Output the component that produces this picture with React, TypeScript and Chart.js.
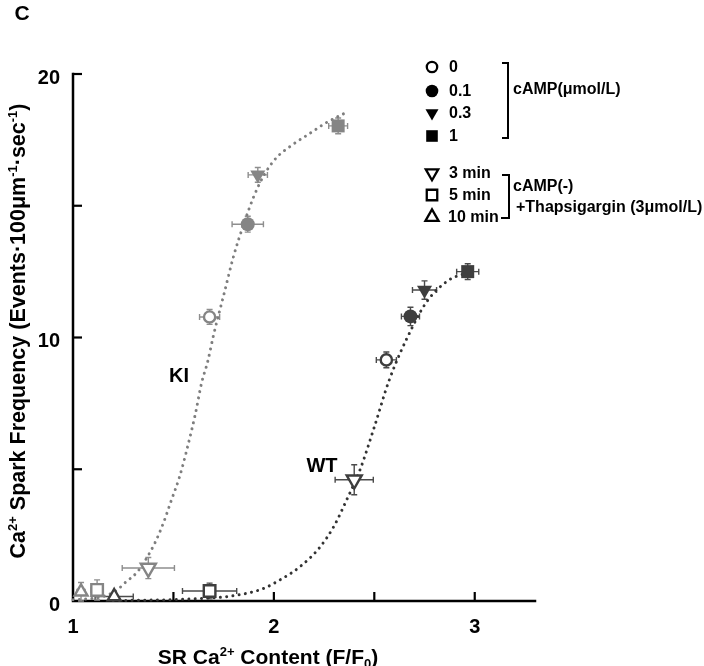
import React, { useEffect, useRef } from 'react';
import { Chart, registerables } from 'chart.js';

Chart.register(...registerables);

// ---------- data ----------
// marker groups (same order in every series array)
const groupLabels = ['10 min', '5 min', '3 min', '0', '0.1', '0.3', '1'];

// KI markers
const kiX = [1.04, 1.12, 1.375, 1.68, 1.87, 1.92, 2.32];
const kiY = [0.35, 0.42, 1.25, 10.78, 14.3, 16.17, 18.03];
const kiXErr = [0.02, 0.03, 0.13, 0.05, 0.078, 0.048, 0.047];
const kiYErr = [0.35, 0.38, 0.4, 0.28, 0.3, 0.28, 0.3];

// WT markers
const wtX = [1.205, 1.68, 2.40, 2.56, 2.68, 2.75, 2.965];
const wtY = [0.17, 0.38, 4.6, 9.15, 10.8, 11.8, 12.5];
const wtXErr = [0.095, 0.135, 0.095, 0.05, 0.045, 0.06, 0.055];
const wtYErr = [0.1, 0.3, 0.57, 0.3, 0.35, 0.35, 0.3];

// fitted curves
const kiCurveX = [1.00, 1.10, 1.18, 1.22, 1.26, 1.32, 1.37, 1.41, 1.45, 1.49, 1.53, 1.57, 1.61, 1.64, 1.67, 1.70, 1.75, 1.80, 1.85, 1.90, 1.95, 2.01, 2.09, 2.18, 2.26, 2.35];
const kiCurveY = [0.05, 0.1, 0.25, 0.42, 0.7, 1.1, 1.67, 2.24, 2.96, 3.83, 4.7, 5.84, 7.13, 8.27, 9.07, 10.1, 11.6, 13.1, 14.3, 15.35, 16.15, 16.8, 17.3, 17.75, 18.15, 18.5];
const wtCurveX = [1.20, 1.35, 1.50, 1.65, 1.77, 1.87, 1.95, 2.03, 2.13, 2.23, 2.30, 2.36, 2.43, 2.50, 2.575, 2.69, 2.765, 2.875, 2.94, 2.99];
const wtCurveY = [0.02, 0.03, 0.05, 0.1, 0.17, 0.3, 0.48, 0.8, 1.3, 2.05, 2.85, 3.8, 5.0, 6.6, 8.4, 10.4, 11.4, 12.2, 12.4, 12.55];

// axes
const xMin = 1;
const xMax = 3.3;
const yMin = 0;
const yMax = 20;
const xTickMarks = [1.5, 2, 2.5, 3];
const yTickMarks = [5, 10, 15, 20];
const xTickLabels = ['1', '2', '3'];
const yTickLabels = ['0', '10', '20'];

// legend
const campLabels = ['0', '0.1', '0.3', '1'];
const campTitle = 'cAMP(μmol/L)';
const timeLabels = ['3 min', '5 min', '10 min'];
const timeTitle1 = 'cAMP(-)';
const timeTitle2 = '+Thapsigargin (3μmol/L)';
const seriesNames = ['KI', 'WT'];

// ---------- styles ----------
const FONT = '"Liberation Sans", Arial, Helvetica, sans-serif';
const KI_COLOR = '#858585';
const WT_COLOR = '#3e3e3e';
const KI_ERR = '#8e8e8e';
const WT_ERR = '#4a4a4a';
const P_STYLE = ['triangle', 'rect', 'triangle', 'circle', 'circle', 'triangle', 'rect'];
const P_ROT = [0, 0, 180, 0, 0, 180, 0];
const P_FILLED = [false, false, false, false, true, true, true];
const P_RADIUS = [7.5, 8.2, 8.7, 5.6, 7, 8.7, 9.2];

function drawMarker(ctx: CanvasRenderingContext2D, style: string, rot: number, filled: boolean, x: number, y: number, r: number, color: string, lw: number) {
  ctx.save();
  ctx.beginPath();
  if (style === 'circle') {
    ctx.arc(x, y, r, 0, Math.PI * 2);
  } else if (style === 'rect') {
    const s = r * Math.SQRT1_2;
    ctx.rect(x - s, y - s, 2 * s, 2 * s);
  } else {
    const a0 = (rot * Math.PI) / 180;
    for (let i = 0; i < 3; i++) {
      const a = a0 + (i * 2 * Math.PI) / 3;
      const px = x + Math.sin(a) * r;
      const py = y - Math.cos(a) * r;
      if (i === 0) ctx.moveTo(px, py);
      else ctx.lineTo(px, py);
    }
    ctx.closePath();
  }
  if (filled) {
    ctx.fillStyle = color;
    ctx.fill();
  } else {
    ctx.fillStyle = '#fff';
    ctx.fill();
    ctx.lineWidth = lw;
    ctx.strokeStyle = color;
    ctx.lineJoin = 'miter';
    ctx.stroke();
  }
  ctx.restore();
}

type Part = [string, number]; // 0 normal, 1 sup, 2 sub

function drawRich(ctx: CanvasRenderingContext2D, parts: Part[], cx: number, cy: number, size: number) {
  const small = Math.round(size * 0.62);
  const fontFor = (k: number) => `bold ${k === 0 ? size : small}px ${FONT}`;
  let total = 0;
  for (const [t, k] of parts) {
    ctx.font = fontFor(k);
    total += ctx.measureText(t).width;
  }
  let x = cx - total / 2;
  const base = cy + size * 0.36;
  ctx.textAlign = 'left';
  ctx.textBaseline = 'alphabetic';
  for (const [t, k] of parts) {
    ctx.font = fontFor(k);
    const dy = k === 1 ? -size * 0.36 : k === 2 ? size * 0.2 : 0;
    ctx.fillText(t, x, base + dy);
    x += ctx.measureText(t).width;
  }
}

const errorBarPlugin = {
  id: 'errorBars',
  beforeDatasetsDraw(chart: any) {
    const { ctx, scales } = chart;
    const xs = scales.x;
    const ys = scales.y;
    const area = chart.chartArea;
    // axes lines and inward ticks
    ctx.save();
    ctx.strokeStyle = '#000';
    ctx.lineWidth = 2.5;
    ctx.lineCap = 'square';
    ctx.beginPath();
    ctx.moveTo(area.left, area.top);
    ctx.lineTo(area.left, area.bottom);
    ctx.lineTo(area.right, area.bottom);
    ctx.stroke();
    ctx.lineWidth = 2.2;
    ctx.lineCap = 'butt';
    for (const v of xTickMarks) {
      const px = xs.getPixelForValue(v);
      ctx.beginPath();
      ctx.moveTo(px, area.bottom);
      ctx.lineTo(px, area.bottom - 9);
      ctx.stroke();
    }
    for (const v of yTickMarks) {
      const py = ys.getPixelForValue(v);
      ctx.beginPath();
      ctx.moveTo(area.left, py);
      ctx.lineTo(area.left + 9, py);
      ctx.stroke();
    }
    ctx.restore();

    const drawBars = (X: number[], Y: number[], XE: number[], YE: number[], color: string) => {
      ctx.save();
      ctx.strokeStyle = color;
      ctx.lineWidth = 1.4;
      const cap = 3;
      for (let i = 0; i < X.length; i++) {
        const px = xs.getPixelForValue(X[i]);
        const py = ys.getPixelForValue(Y[i]);
        const x0 = xs.getPixelForValue(X[i] - XE[i]);
        const x1 = xs.getPixelForValue(X[i] + XE[i]);
        const y0 = ys.getPixelForValue(Y[i] - YE[i]);
        const y1 = ys.getPixelForValue(Y[i] + YE[i]);
        ctx.beginPath();
        ctx.moveTo(x0, py); ctx.lineTo(x1, py);
        ctx.moveTo(x0, py - cap); ctx.lineTo(x0, py + cap);
        ctx.moveTo(x1, py - cap); ctx.lineTo(x1, py + cap);
        ctx.moveTo(px, y0); ctx.lineTo(px, y1);
        ctx.moveTo(px - cap, y0); ctx.lineTo(px + cap, y0);
        ctx.moveTo(px - cap, y1); ctx.lineTo(px + cap, y1);
        ctx.stroke();
      }
      ctx.restore();
    };
    drawBars(kiX, kiY, kiXErr, kiYErr, KI_ERR);
    drawBars(wtX, wtY, wtXErr, wtYErr, WT_ERR);
  },
  afterDraw(chart: any) {
    const { ctx } = chart;
    ctx.save();
    ctx.fillStyle = '#000';
    // panel letter
    ctx.font = `bold 21px ${FONT}`;
    ctx.textAlign = 'center';
    ctx.textBaseline = 'middle';
    ctx.fillText('C', 22, 14);
    // series labels
    ctx.font = `bold 20px ${FONT}`;
    ctx.fillText(seriesNames[0], 179, 376);
    ctx.fillText(seriesNames[1], 322, 466);

    // x title
    drawRich(ctx, [['SR Ca', 0], ['2+', 1], [' Content (F/F', 0], ['0', 2], [')', 0]], 268, 656, 21);
    // y title
    ctx.save();
    ctx.translate(17, 331);
    ctx.rotate(-Math.PI / 2);
    drawRich(ctx, [['Ca', 0], ['2+', 1], [' Spark Frequency (Events·100μm', 0], ['-1', 1], ['·sec', 0], ['-1', 1], [')', 0]], 0, 0, 21.5);
    ctx.restore();

    // legend
    const lx = 432;
    const tx = 449;
    const campY = [67, 91, 113, 136];
    const campStyle = [['circle', 0, false, 5.2], ['circle', 0, true, 6.3], ['triangle', 180, true, 7.5], ['rect', 0, true, 8.2]];
    const timeY = [173, 195, 217];
    const timeStyle = [['triangle', 180, false, 7.2], ['rect', 0, false, 7.4], ['triangle', 0, false, 7.6]];
    ctx.font = `bold 16px ${FONT}`;
    ctx.textAlign = 'left';
    ctx.textBaseline = 'middle';
    campLabels.forEach((t, i) => {
      const s: any = campStyle[i];
      drawMarker(ctx, s[0], s[1], s[2], lx, campY[i], s[3], '#000', 2.3);
      ctx.fillStyle = '#000';
      ctx.fillText(t, tx, campY[i] + 1);
    });
    timeLabels.forEach((t, i) => {
      const s: any = timeStyle[i];
      drawMarker(ctx, s[0], s[1], s[2], lx, timeY[i], s[3], '#000', 2.3);
      ctx.fillStyle = '#000';
      ctx.fillText(t, i === 2 ? tx - 1 : tx, timeY[i] + 1);
    });
    // brackets
    ctx.strokeStyle = '#000';
    ctx.lineWidth = 2;
    ctx.beginPath();
    ctx.moveTo(502, 63); ctx.lineTo(508, 63); ctx.lineTo(508, 138); ctx.lineTo(502, 138);
    ctx.moveTo(502, 175); ctx.lineTo(509, 175); ctx.lineTo(509, 218); ctx.lineTo(501, 218);
    ctx.stroke();
    ctx.fillText(campTitle, 513, 90);
    ctx.fillText(timeTitle1, 513, 187);
    ctx.fillText(timeTitle2, 516, 208);
    ctx.restore();
  },
};

function buildPoints(X: number[], Y: number[]) {
  return X.map((x, i) => ({ x, y: Y[i] }));
}

export default function App() {
  const ref = useRef<HTMLCanvasElement | null>(null);

  useEffect(() => {
    if (!ref.current) return;
    Chart.defaults.font.family = FONT;
    const markerDataset = (X: number[], Y: number[], color: string, label: string) => ({
      type: 'scatter' as const,
      label,
      data: buildPoints(X, Y),
      pointStyle: P_STYLE,
      rotation: P_ROT,
      pointRadius: P_RADIUS,
      pointHoverRadius: P_RADIUS,
      backgroundColor: P_FILLED.map((f) => (f ? color : '#ffffff')),
      borderColor: color,
      borderWidth: P_FILLED.map((f) => (f ? 0 : 2.4)),
      showLine: false,
      clip: false,
      order: 0,
    });
    const curveDataset = (X: number[], Y: number[], color: string, label: string) => ({
      type: 'scatter' as const,
      label,
      data: buildPoints(X, Y),
      showLine: true,
      pointRadius: 0,
      borderColor: color,
      borderWidth: 3,
      borderDash: [0.01, 6.3],
      borderCapStyle: 'round' as const,
      cubicInterpolationMode: 'monotone' as const,
      fill: false,
      clip: false,
      order: 5,
    });

    const chart = new Chart(ref.current, {
      type: 'scatter',
      data: {
        datasets: [
          markerDataset(kiX, kiY, KI_COLOR, 'KI ' + groupLabels.join(',')),
          markerDataset(wtX, wtY, WT_COLOR, 'WT ' + groupLabels.join(',')),
          curveDataset(kiCurveX, kiCurveY, '#7e7e7e', 'KI fit'),
          curveDataset(wtCurveX, wtCurveY, '#333333', 'WT fit'),
        ] as any,
      },
      plugins: [errorBarPlugin],
      options: {
        responsive: false,
        animation: false,
        events: [],
        layout: { padding: { top: 74, right: 169, left: 0, bottom: 0 } },
        plugins: { legend: { display: false }, tooltip: { enabled: false } },
        scales: {
          x: {
            type: 'linear',
            min: xMin,
            max: xMax,
            grid: { display: false, drawTicks: false },
            border: { display: false },
            ticks: {
              stepSize: 0.5,
              autoSkip: false,
              maxRotation: 0,
              padding: 14,
              color: '#000',
              font: { size: 20, weight: 'bold', family: FONT },
              callback: (v: any) => (xTickLabels.includes(String(v)) ? String(v) : ''),
            },
            afterFit: (s: any) => {
              s.height = 65;
            },
          },
          y: {
            type: 'linear',
            min: yMin,
            max: yMax,
            grid: { display: false, drawTicks: false },
            border: { display: false },
            ticks: {
              stepSize: 5,
              autoSkip: false,
              padding: 13,
              labelOffset: 4,
              color: '#000',
              font: { size: 20, weight: 'bold', family: FONT },
              callback: (v: any) => (yTickLabels.includes(String(v)) ? String(v) : ''),
            },
            afterFit: (s: any) => {
              s.width = 73;
            },
          },
        },
      },
    });
    return () => chart.destroy();
  }, []);

  return (
    <div style={{ position: 'fixed', left: 0, top: 0, width: 704, height: 666, background: '#fff' }}>
      <canvas ref={ref} width={704} height={666} style={{ width: 704, height: 666, display: 'block' }} />
    </div>
  );
}
